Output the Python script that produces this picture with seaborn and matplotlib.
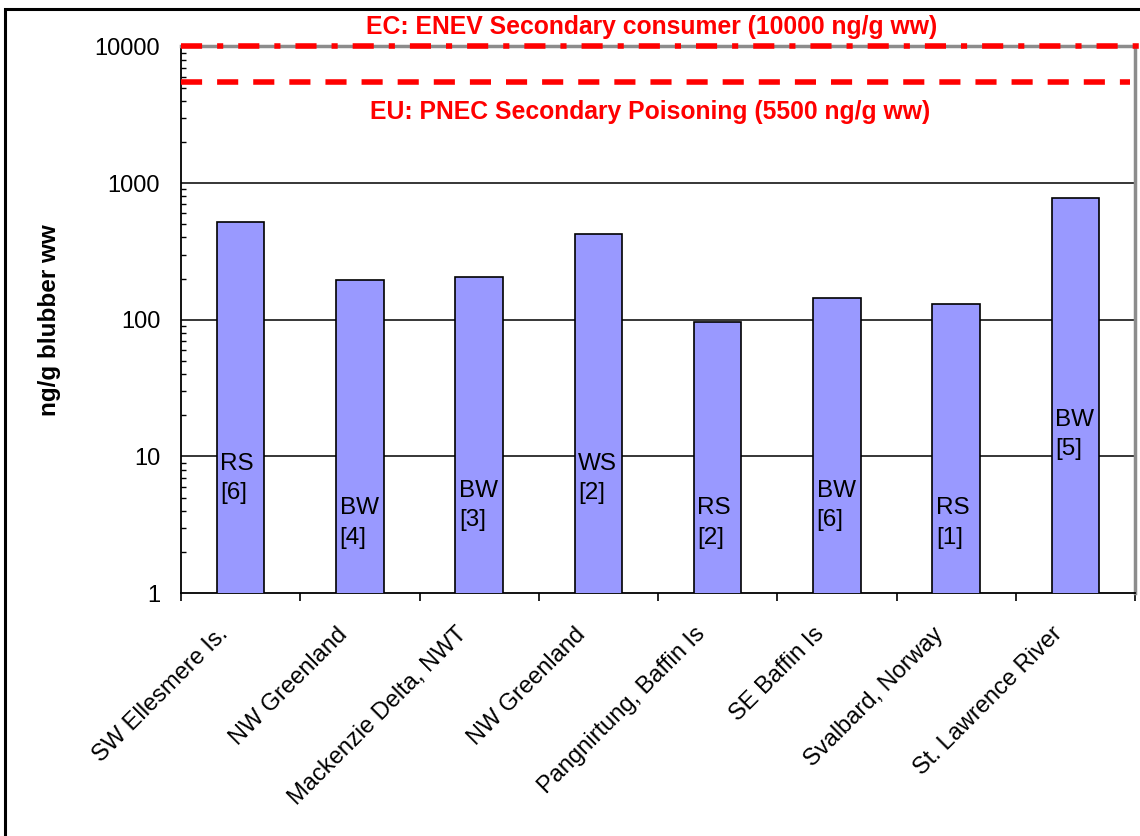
import numpy as np
import pandas as pd
import matplotlib
matplotlib.use("Agg")
import matplotlib.pyplot as plt
import matplotlib.transforms as mtransforms
from matplotlib.patches import Rectangle
from matplotlib.ticker import FixedLocator, LogLocator, NullFormatter, FixedFormatter
import seaborn as sns

# ---- data ----
sites = ["SW Ellesmere Is.", "NW Greenland", "Mackenzie Delta, NWT", "NW Greenland",
         "Pangnirtung, Baffin Is", "SE Baffin Is", "Svalbard, Norway", "St. Lawrence River"]
values = [519, 197, 207, 424, 95.5, 144, 131, 773]
species = ["RS", "BW", "BW", "WS", "RS", "BW", "RS", "BW"]
refs = ["[6]", "[4]", "[3]", "[2]", "[2]", "[6]", "[1]", "[5]"]
label_y = [6.9, 3.25, 4.36, 6.9, 3.25, 4.36, 3.25, 14.4]
ec_value = 10000
eu_value = 5500
ec_text = "EC: ENEV Secondary consumer (10000 ng/g ww)"
eu_text = "EU: PNEC Secondary Poisoning (5500 ng/g ww)"
y_ticks = [1, 10, 100, 1000, 10000]
y_label = "ng/g blubber ww"

sns.set_style("white")
plt.rcParams["font.family"] = ["Liberation Sans", "DejaVu Sans"]
plt.rcParams.update({"text.color": "black", "axes.labelcolor": "black",
                     "xtick.color": "black", "ytick.color": "black"})

df = pd.DataFrame({"pos": np.arange(len(sites)), "value": values})

fig = plt.figure(figsize=(11.4, 8.36), dpi=100)
ax = fig.add_axes([181 / 1140, 1 - 593 / 836, (1135 - 181) / 1140, (593 - 46.5) / 836])

sns.barplot(data=df, x="pos", y="value", ax=ax, width=0.4, color="#9999FF",
            saturation=1, edgecolor="black", linewidth=1.2, errorbar=None, zorder=3)
ax.set_yscale("log")
ax.set_ylim(1, 10000)
ax.set_xlim(-0.5, len(sites) - 0.5)

# gridlines
for v in y_ticks[1:-1]:
    ax.axhline(v, color="black", lw=1.1, zorder=1)

# y ticks
ax.yaxis.set_major_locator(FixedLocator(y_ticks))
ax.yaxis.set_major_formatter(FixedFormatter([str(t) for t in y_ticks]))
ax.yaxis.set_minor_locator(LogLocator(base=10, subs=np.arange(2, 10)))
ax.yaxis.set_minor_formatter(NullFormatter())
ax.tick_params(axis="y", which="major", length=0, pad=15, labelsize=17, labelcolor="black")
ax.tick_params(axis="y", which="minor", direction="in", length=3.5, width=1, left=True, color="black")
ax.set_ylabel(y_label, fontsize=17.5, fontweight="bold", labelpad=24, color="black")

# x ticks: labels at centres, marks at boundaries
ax.set_xticks(np.arange(len(sites)))
ax.set_xticks(np.arange(len(sites) + 1) - 0.5, minor=True)
ax.set_xlabel("")
ax.tick_params(axis="x", which="major", length=0, pad=0, labelcolor="black")
ax.tick_params(axis="x", which="minor", direction="out", length=6, width=1.2, bottom=True, color="black")
ax.set_xticklabels(sites, rotation=45, ha="right", va="center", rotation_mode="anchor", fontsize=17)
offset = mtransforms.ScaledTranslation(-16 / 100, -38 / 100, fig.dpi_scale_trans)
for lab in ax.get_xticklabels():
    lab.set_transform(lab.get_transform() + offset)

# spines
for s in ["left", "bottom"]:
    ax.spines[s].set_color("black")
    ax.spines[s].set_linewidth(1.3)
for s in ["top", "right"]:
    ax.spines[s].set_color("#8c8c8c")
    ax.spines[s].set_linewidth(2.5)

# threshold lines
ax.axhline(ec_value, xmin=0, xmax=1.006, color="#FF0000", lw=4,
           linestyle=(0, (3.8, 2.7, 1.1, 2.7)), clip_on=False, zorder=5)
ax.axhline(eu_value, xmin=0, xmax=0.995, color="#FF0000", lw=4,
           linestyle=(0, (3.8, 2.7)), zorder=5)

fig.text(652 / 1140, 1 - 27 / 836, ec_text, color="#FF0000", fontsize=17.8,
         fontweight="bold", ha="center", va="center")
fig.text(650 / 1140, 1 - 112 / 836, eu_text, color="#FF0000", fontsize=17.8,
         fontweight="bold", ha="center", va="center")

# species labels inside bars
for i, (sp, rf, yy) in enumerate(zip(species, refs, label_y)):
    ax.text(i - 0.2 + 0.03, yy, sp + "\n" + rf, ha="left", va="center",
            fontsize=17.5, linespacing=1.42, color="black", zorder=6)

# figure frame
fig.patches.append(Rectangle((5 / 1140, -0.05), 1.2, 1 - 9 / 836 + 0.05,
                             transform=fig.transFigure, fill=False,
                             edgecolor="black", lw=2.2, zorder=10))

fig.savefig("out.png", dpi=100)
